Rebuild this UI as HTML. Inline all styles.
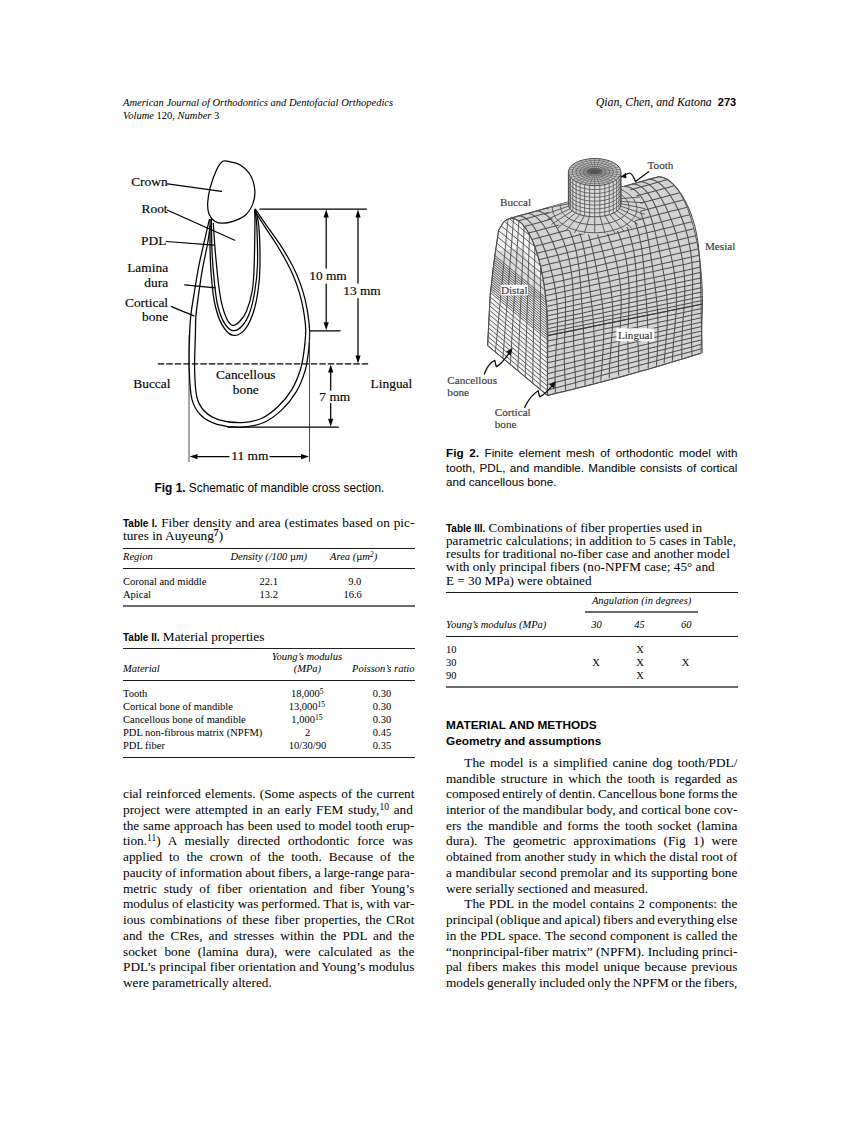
<!DOCTYPE html>
<html><head><meta charset="utf-8"><title>Page 273</title>
<style>
html,body{margin:0;padding:0;background:#fff;}
body{width:862px;height:1122px;position:relative;overflow:hidden;font-family:'Liberation Serif', serif;color:#000;}
.t{position:absolute;white-space:nowrap;margin:0;padding:0;}
.r{position:absolute;}
sup{font-size:0.72em;line-height:0;vertical-align:baseline;position:relative;top:-0.42em;}
svg{position:absolute;left:0;top:0;}
</style></head><body>
<svg width="862" height="1122" viewBox="0 0 862 1122" style="position:absolute;left:0;top:0">
<g stroke="#000" fill="none" stroke-width="1.25" stroke-linecap="round" stroke-linejoin="round">
<path d="M222.8,161.3C220.5,162.7 218.6,165.6 216.5,170.0C214.4,174.4 211.7,182.2 210.2,187.6C208.7,193.0 207.9,198.2 207.7,202.6C207.5,207.0 207.8,210.8 209.0,213.9C210.2,217.0 212.9,219.9 215.2,221.4C217.5,222.9 219.9,223.2 222.8,223.2C225.7,223.2 229.1,222.7 232.8,221.4C236.6,220.1 242.0,218.1 245.3,215.2C248.6,212.3 251.2,208.1 252.8,203.9C254.4,199.7 255.2,194.9 254.8,190.1C254.4,185.3 252.7,179.2 250.3,175.0C247.9,170.8 243.6,167.2 240.3,165.0C237.0,162.8 233.2,162.4 230.3,161.8C227.4,161.2 225.1,159.9 222.8,161.3Z"/>
<path d="M209.4,219.4C208.7,222.6 206.6,231.2 204.9,238.8C203.2,246.4 200.8,256.1 199.1,264.7C197.4,273.3 196.0,281.9 194.6,290.5C193.2,299.1 191.5,309.0 190.7,316.4C189.9,323.8 189.8,326.3 189.6,335.0C189.3,343.7 188.8,358.1 189.2,368.8C189.6,379.5 189.9,391.4 191.9,399.1C193.9,406.9 196.7,411.1 200.9,415.3C205.1,419.5 210.2,422.3 217.1,424.3C224.0,426.3 234.5,427.5 242.3,427.2C250.1,426.9 257.2,425.4 263.8,422.5C270.4,419.6 276.4,415.0 281.8,409.9C287.2,404.8 292.3,398.5 296.2,391.9C300.1,385.3 303.1,377.5 305.2,370.3C307.3,363.1 308.1,355.6 308.8,348.8C309.5,342.0 309.8,335.8 309.5,329.3C309.2,322.8 308.2,315.9 307.2,309.9C306.2,303.9 305.1,298.9 303.4,293.1C301.7,287.3 299.3,280.6 296.9,275.0C294.5,269.4 292.1,264.9 289.1,259.5C286.1,254.1 282.7,248.5 278.8,242.7C274.9,236.9 269.8,230.2 265.9,224.6C262.0,219.0 257.1,211.7 255.3,209.1"/>
<path d="M210.1,225.9C209.7,228.9 208.8,236.7 207.5,244.0C206.2,251.3 203.8,261.2 202.3,269.8C200.8,278.4 199.5,287.9 198.4,295.7C197.3,303.5 196.4,309.8 195.9,316.4C195.4,322.9 195.6,326.3 195.4,335.0C195.2,343.7 194.4,358.5 194.6,368.8C194.8,379.1 195.1,389.9 196.8,397.0C198.5,404.1 200.9,407.5 204.6,411.3C208.3,415.1 212.7,417.9 219.0,419.8C225.3,421.7 235.1,422.9 242.3,422.6C249.5,422.3 256.0,420.9 262.0,418.2C268.0,415.5 273.3,411.1 278.3,406.3C283.3,401.5 288.1,395.8 291.8,389.6C295.5,383.4 298.5,375.8 300.6,369.0C302.7,362.2 303.5,355.4 304.3,348.8C305.1,342.2 305.9,335.8 305.7,329.3C305.5,322.8 304.4,315.9 303.4,309.9C302.4,303.9 301.2,298.9 299.5,293.1C297.8,287.3 295.4,280.6 293.0,275.0C290.6,269.4 288.1,264.7 285.3,259.5C282.5,254.3 279.4,249.2 276.2,244.0C273.0,238.8 269.1,233.4 265.9,228.4C262.7,223.4 258.3,216.6 256.8,214.2"/>
<path d="M210.1,219.4C210.1,224.8 209.8,240.9 210.1,251.7C210.4,262.5 211.1,274.9 212.0,284.0C212.9,293.1 213.7,299.3 215.3,306.0C216.9,312.7 218.9,319.2 221.7,324.1C224.5,329.0 228.4,334.0 232.1,335.1C235.8,336.2 240.4,334.2 243.9,330.6C247.4,327.1 250.5,320.5 252.9,313.8C255.3,307.1 256.9,298.7 258.1,290.5C259.3,282.3 259.9,275.5 260.0,264.7C260.1,253.9 259.6,235.0 258.8,225.9C258.0,216.8 256.0,212.6 255.4,209.9"/>
<path d="M211.4,219.4C211.5,224.8 211.5,240.9 212.0,251.7C212.5,262.5 213.6,274.9 214.6,284.0C215.6,293.1 216.2,299.5 217.8,306.0C219.4,312.5 221.8,318.7 224.3,322.8C226.8,326.9 229.8,330.0 232.7,330.6C235.6,331.2 239.0,329.3 241.8,326.3C244.6,323.3 247.5,318.5 249.7,312.5C251.9,306.5 253.6,298.5 254.9,290.5C256.2,282.5 257.2,275.5 257.5,264.7C257.8,253.9 257.2,235.0 256.8,225.9C256.4,216.8 255.1,212.6 254.8,209.9"/>
<path d="M213.3,223.3C213.6,228.0 214.4,241.6 215.3,251.7C216.2,261.8 217.4,275.4 218.5,284.0C219.6,292.6 220.3,297.6 221.7,303.4C223.1,309.2 225.1,315.3 226.9,319.0C228.7,322.7 230.5,325.0 232.7,325.4C234.8,325.8 237.5,323.7 239.8,321.3C242.1,318.9 244.4,316.3 246.5,311.2C248.6,306.1 251.0,298.2 252.3,290.5C253.6,282.8 253.8,275.5 254.2,264.7C254.6,253.9 254.8,234.9 254.9,225.9C255.0,216.9 254.8,213.1 254.8,210.5"/>
<path d="M167.6,183.8L221.5,191.4"/>
<path d="M167.6,210.2L234.8,240.2"/>
<path d="M166.4,241.5L214,245.2"/>
<path d="M184.7,284.8L215.2,287.8"/>
<path d="M171.4,306.6L193.9,315.9"/>
<path d="M260,209H366.5"/>
<path d="M326.2,214V268M326.2,284V326"/>
<path d="M358,214V283M358,298.5V359"/>
<path d="M309.5,330.8H340"/>
<path d="M330.7,369V390M330.7,403.5V422"/>
<path d="M227.9,427.2H338.3"/>
<path d="M195,456.6H229M270,456.6H303.5"/>
</g>
<path d="M189,335V462M309.5,331V462" stroke="#222" stroke-width="0.8" fill="none"/>
<path d="M157.8,363.9H368.1" stroke="#000" stroke-width="1.3" stroke-dasharray="6.5 2" fill="none"/>
<g fill="#000">
<path d="M326.2,209.5L323.59999999999997,217.5L328.8,217.5Z"/>
<path d="M326.2,330.3L323.59999999999997,322.3L328.8,322.3Z"/>
<path d="M358,209.5L355.4,217.5L360.6,217.5Z"/>
<path d="M358,363.5L355.4,355.5L360.6,355.5Z"/>
<path d="M330.7,364.5L328.09999999999997,372.5L333.3,372.5Z"/>
<path d="M330.7,426.8L328.09999999999997,418.8L333.3,418.8Z"/>
<path d="M189.5,456.6L197.5,454.0L197.5,459.20000000000005Z"/>
<path d="M309,456.6L301,454.0L301,459.20000000000005Z"/>
</g>
<g font-family="'Liberation Serif',serif" font-size="13.4" fill="#000" stroke="#000" stroke-width="0.15">
<text x="167.6" y="186.3" text-anchor="end">Crown</text>
<text x="167.6" y="213.2" text-anchor="end">Root</text>
<text x="166.4" y="245.2" text-anchor="end">PDL</text>
<text x="168.1" y="272" text-anchor="end">Lamina</text>
<text x="168.1" y="286.6" text-anchor="end">dura</text>
<text x="168.1" y="306.6" text-anchor="end">Cortical</text>
<text x="168.1" y="320.9" text-anchor="end">bone</text>
<text x="133.3" y="388.3" text-anchor="start">Buccal</text>
<text x="370.6" y="388.3" text-anchor="start">Lingual</text>
<text x="245.8" y="379.3" text-anchor="middle">Cancellous</text>
<text x="245.8" y="393.7" text-anchor="middle">bone</text>
<text x="328" y="279.6" text-anchor="middle">10 mm</text>
<text x="362" y="294.8" text-anchor="middle">13 mm</text>
<text x="334.8" y="400.9" text-anchor="middle">7 mm</text>
<text x="249.8" y="460.2" text-anchor="middle">11 mm</text>
</g></svg>
<svg width="862" height="1122" viewBox="0 0 862 1122" style="position:absolute;left:0;top:0">
<defs><filter id="bl" x="-5%" y="-5%" width="110%" height="110%"><feGaussianBlur stdDeviation="0.45"/></filter></defs>
<g filter="url(#bl)">
<path d="M510.6,218.2L658.5,176.7L661.4,177.0L664.2,177.8L667.1,179.1L669.9,181.0L672.6,183.5L675.3,186.4L678.0,189.8L680.5,193.8L682.9,198.2L685.3,203.0L687.5,208.3L689.6,214.0L691.6,220.1L693.4,226.5L695.1,233.3L696.6,240.3L698.0,247.7L699.2,255.3L700.2,263.1L701.0,271.1L701.7,279.2L702.1,287.4L702.4,295.7L702.5,304.0L701.0,353.3L685.6,358.0L670.3,362.6L654.9,367.2L639.6,371.6L624.2,375.9L608.8,380.0L593.5,384.1L578.1,387.9L562.8,391.7L547.4,395.5L546.6,394.8L487.6,345.6L490.2,294.7L493.0,270.0L495.3,252.4L498.6,230.3L503.7,221.9L507.0,219.6Z" fill="#d3d3d3" stroke="none"/>
<clipPath id="dc"><path d="M487.6,345.6L490.2,294.7L493.0,270.0L495.3,252.4L498.6,230.3L503.7,221.9L507.0,219.6L510.6,218.2L513.0,218.5L515.4,219.2L517.8,220.5L520.2,222.2L522.5,224.4L524.8,227.1L527.0,230.3L529.1,233.9L531.2,238.0L533.2,242.5L535.1,247.3L536.8,252.6L538.5,258.2L540.0,264.1L541.4,270.4L542.7,276.9L543.9,283.7L544.9,290.7L545.7,297.9L546.4,305.2L547.0,312.7L547.4,320.3L547.6,327.9L547.7,335.6L547.4,395.5L546.6,394.8Z"/></clipPath>
<path d="M487.6,345.6L490.2,294.7L493.0,270.0L495.3,252.4L498.6,230.3L503.7,221.9L507.0,219.6L510.6,218.2L513.0,218.5L515.4,219.2L517.8,220.5L520.2,222.2L522.5,224.4L524.8,227.1L527.0,230.3L529.1,233.9L531.2,238.0L533.2,242.5L535.1,247.3L536.8,252.6L538.5,258.2L540.0,264.1L541.4,270.4L542.7,276.9L543.9,283.7L544.9,290.7L545.7,297.9L546.4,305.2L547.0,312.7L547.4,320.3L547.6,327.9L547.7,335.6L547.4,395.5L546.6,394.8Z" fill="#f3f3f3" stroke="none"/>
<g clip-path="url(#dc)" stroke="#505050" stroke-width="0.9" fill="none"><path d="M488,252L520,248L545,286L546,300L489,292Z" fill="#dcdcdc" stroke="none"/><path d="M495.1,355.8L508.4,215"/><path d="M502.6,362.0L513.8,215"/><path d="M510.1,368.2L519.2,215"/><path d="M517.6,374.4L524.6,215"/><path d="M525.1,380.6L530.0,215"/><path d="M532.6,386.8L535.4,215"/><path d="M540.1,393.0L540.8,215"/><path d="M547.6,399.2L546.2,215"/><path d="M484,342.6L552,398.9"/><path d="M484,338.0L552,394.3"/><path d="M484,333.4L552,389.7"/><path d="M484,328.8L552,385.1"/><path d="M484,324.2L552,380.5"/><path d="M484,319.6L552,375.9"/><path d="M484,315.0L552,371.3"/><path d="M484,310.4L552,366.7"/><path d="M484,305.8L552,362.1"/><path d="M484,301.2L552,357.5"/><path d="M484,296.6L552,352.9"/><path d="M484,292.0L552,348.3"/><path d="M484,287.4L552,343.7"/><path d="M484,285.0L552,341.3"/><path d="M484,282.6L552,338.9"/><path d="M484,280.2L552,336.5"/><path d="M484,277.8L552,334.1"/><path d="M484,275.4L552,331.7"/><path d="M484,273.0L552,329.3"/><path d="M484,270.6L552,326.9"/><path d="M484,268.2L552,324.5"/><path d="M484,265.8L552,322.1"/><path d="M484,263.4L552,319.7"/><path d="M484,261.0L552,317.3"/><path d="M484,258.6L552,314.9"/><path d="M484,256.2L552,312.5"/><path d="M484,253.8L552,310.1"/><path d="M484,251.4L552,307.7"/><path d="M484,249.0L552,305.3"/><path d="M484,246.6L552,302.9"/><path d="M484,239.6L552,295.9"/><path d="M484,232.6L552,288.9"/><path d="M484,225.6L552,281.9"/><path d="M484,218.6L552,274.9"/><path d="M484,211.6L552,267.9"/><path d="M484,204.6L552,260.9"/><path d="M484,197.6L552,253.9"/><path d="M484,190.6L552,246.9"/><path d="M484,183.6L552,239.9"/><path d="M484,176.6L552,232.9"/><path d="M484,169.6L552,225.9"/><path d="M484,162.6L552,218.9"/><path d="M484,155.6L552,211.9"/><path d="M484,148.6L552,204.9"/></g>
<path d="M487.6,345.6L490.2,294.7L493.0,270.0L495.3,252.4L498.6,230.3L503.7,221.9L507.0,219.6L510.6,218.2L513.0,218.5L515.4,219.2L517.8,220.5L520.2,222.2L522.5,224.4L524.8,227.1L527.0,230.3L529.1,233.9L531.2,238.0L533.2,242.5L535.1,247.3L536.8,252.6L538.5,258.2L540.0,264.1L541.4,270.4L542.7,276.9L543.9,283.7L544.9,290.7L545.7,297.9L546.4,305.2L547.0,312.7L547.4,320.3L547.6,327.9L547.7,335.6L547.4,395.5L546.6,394.8Z" fill="none" stroke="#505050" stroke-width="1"/>
<g stroke="#505050" stroke-width="1.05" fill="none"><path d="M510.6,218.2L518.0,216.1L525.4,214.1L532.8,212.0L540.2,209.9L547.6,207.8L555.0,205.8L562.4,203.7L569.8,201.6L577.2,199.5L584.5,197.4L591.9,195.4L599.3,193.3L606.7,191.2L614.1,189.2L621.5,187.1L628.9,185.0L636.3,182.9L643.7,180.8L651.1,178.8L658.5,176.7"/><path d="M518.4,220.8L525.9,218.8L533.3,216.7L540.8,214.6L548.3,212.6L555.7,210.5L563.2,208.4L570.7,206.4L578.1,204.3L585.6,202.3L593.1,200.2L600.6,198.1L608.0,196.1L615.5,194.0L623.0,191.9L630.4,189.9L637.9,187.8L645.4,185.7L652.8,183.7L660.3,181.6L667.8,179.6"/><path d="M524.3,226.4L531.8,224.4L539.3,222.4L546.8,220.3L554.3,218.3L561.9,216.2L569.4,214.2L576.9,212.2L584.4,210.1L592.0,208.1L599.5,206.0L607.0,204.0L614.5,202.0L622.0,199.9L629.6,197.9L637.1,195.8L644.6,193.8L652.1,191.8L659.7,189.7L667.2,187.7L674.7,185.6"/><path d="M528.6,232.9L536.2,230.9L543.7,228.9L551.3,226.9L558.9,224.9L566.4,222.9L574.0,220.9L581.5,218.9L589.1,216.8L596.7,214.8L604.2,212.8L611.8,210.8L619.3,208.8L626.9,206.8L634.5,204.8L642.0,202.8L649.6,200.7L657.2,198.7L664.7,196.7L672.3,194.7L679.8,192.7"/><path d="M531.9,239.5L539.5,237.6L547.1,235.6L554.7,233.6L562.3,231.6L569.9,229.6L577.5,227.6L585.1,225.7L592.7,223.7L600.3,221.7L607.9,219.7L615.5,217.7L623.1,215.7L630.6,213.7L638.2,211.8L645.8,209.8L653.4,207.8L661.0,205.8L668.6,203.8L676.2,201.8L683.8,199.8"/><path d="M534.7,246.3L542.3,244.4L549.9,242.4L557.6,240.5L565.2,238.5L572.8,236.5L580.4,234.6L588.0,232.6L595.6,230.7L603.3,228.7L610.9,226.8L618.5,224.8L626.1,222.9L633.7,220.9L641.4,218.9L649.0,217.0L656.6,215.0L664.2,213.1L671.8,211.1L679.5,209.2L687.1,207.2"/><path d="M537.0,253.2L544.7,251.3L552.3,249.4L560.0,247.5L567.6,245.5L575.2,243.6L582.9,241.7L590.5,239.7L598.2,237.8L605.8,235.9L613.4,234.0L621.1,232.0L628.7,230.1L636.4,228.2L644.0,226.3L651.7,224.3L659.3,222.4L666.9,220.5L674.6,218.5L682.2,216.6L689.9,214.7"/><path d="M538.9,259.7L546.6,257.8L554.2,255.9L561.9,254.0L569.5,252.1L577.2,250.2L584.9,248.3L592.5,246.4L600.2,244.5L607.8,242.6L615.5,240.7L623.1,238.8L630.8,236.9L638.5,235.0L646.1,233.1L653.8,231.2L661.4,229.3L669.1,227.4L676.8,225.5L684.4,223.6L692.1,221.7"/><path d="M540.5,266.2L548.2,264.3L555.9,262.5L563.5,260.6L571.2,258.7L578.9,256.9L586.6,255.0L594.2,253.1L601.9,251.2L609.6,249.4L617.3,247.5L624.9,245.6L632.6,243.8L640.3,241.9L648.0,240.0L655.6,238.1L663.3,236.3L671.0,234.4L678.6,232.5L686.3,230.6L694.0,228.8"/><path d="M541.9,272.7L549.6,270.8L557.3,269.0L565.0,267.2L572.7,265.3L580.4,263.5L588.0,261.6L595.7,259.8L603.4,257.9L611.1,256.1L618.8,254.2L626.5,252.4L634.2,250.6L641.8,248.7L649.5,246.9L657.2,245.0L664.9,243.2L672.6,241.3L680.3,239.5L688.0,237.6L695.7,235.8"/><path d="M543.0,278.6L550.7,276.8L558.4,275.0L566.1,273.2L573.8,271.4L581.5,269.5L589.2,267.7L596.9,265.9L604.6,264.1L612.3,262.3L620.0,260.4L627.7,258.6L635.4,256.8L643.1,255.0L650.8,253.2L658.5,251.3L666.2,249.5L673.9,247.7L681.6,245.9L689.3,244.1L697.0,242.2"/><path d="M544.0,284.8L551.7,283.0L559.5,281.2L567.2,279.4L574.9,277.6L582.6,275.8L590.3,274.0L598.0,272.2L605.7,270.4L613.4,268.6L621.1,266.8L628.8,265.0L636.5,263.2L644.2,261.5L651.9,259.7L659.6,257.9L667.3,256.1L675.0,254.3L682.8,252.5L690.5,250.7L698.2,248.9"/><path d="M544.9,290.7L552.6,288.9L560.3,287.1L568.0,285.4L575.7,283.6L583.4,281.8L591.2,280.1L598.9,278.3L606.6,276.5L614.3,274.7L622.0,273.0L629.7,271.2L637.4,269.4L645.2,267.7L652.9,265.9L660.6,264.1L668.3,262.4L676.0,260.6L683.7,258.8L691.4,257.1L699.2,255.3"/><path d="M545.5,295.8L553.2,294.1L560.9,292.3L568.7,290.6L576.4,288.8L584.1,287.1L591.8,285.3L599.5,283.6L607.3,281.9L615.0,280.1L622.7,278.4L630.4,276.6L638.1,274.9L645.9,273.1L653.6,271.4L661.3,269.6L669.0,267.9L676.7,266.1L684.5,264.4L692.2,262.6L699.9,260.9"/><path d="M546.1,301.5L553.8,299.8L561.6,298.1L569.3,296.3L577.0,294.6L584.7,292.9L592.5,291.2L600.2,289.5L607.9,287.7L615.6,286.0L623.4,284.3L631.1,282.6L638.8,280.8L646.5,279.1L654.3,277.4L662.0,275.7L669.7,273.9L677.4,272.2L685.2,270.5L692.9,268.8L700.6,267.0"/><path d="M546.5,306.4L554.3,304.7L562.0,303.0L569.7,301.3L577.5,299.6L585.2,297.9L592.9,296.2L600.6,294.5L608.4,292.8L616.1,291.1L623.8,289.4L631.6,287.7L639.3,286.0L647.0,284.3L654.7,282.6L662.5,280.9L670.2,279.2L677.9,277.5L685.7,275.7L693.4,274.0L701.1,272.3"/><path d="M546.9,311.3L554.6,309.7L562.4,308.0L570.1,306.3L577.8,304.6L585.6,302.9L593.3,301.2L601.0,299.6L608.8,297.9L616.5,296.2L624.2,294.5L632.0,292.8L639.7,291.2L647.4,289.5L655.2,287.8L662.9,286.1L670.6,284.4L678.4,282.7L686.1,281.1L693.8,279.4L701.6,277.7"/><path d="M547.2,315.9L554.9,314.2L562.6,312.5L570.4,310.9L578.1,309.2L585.8,307.6L593.6,305.9L601.3,304.2L609.1,302.6L616.8,300.9L624.5,299.2L632.3,297.6L640.0,295.9L647.7,294.2L655.5,292.6L663.2,290.9L670.9,289.3L678.7,287.6L686.4,285.9L694.1,284.3L701.9,282.6"/><path d="M547.4,320.4L555.1,318.8L562.9,317.1L570.6,315.5L578.3,313.9L586.1,312.2L593.8,310.6L601.5,308.9L609.3,307.3L617.0,305.6L624.8,304.0L632.5,302.3L640.2,300.7L648.0,299.1L655.7,297.4L663.4,295.8L671.2,294.1L678.9,292.5L686.7,290.8L694.4,289.2L702.1,287.5"/><path d="M547.5,324.6L555.3,322.9L563.0,321.3L570.8,319.7L578.5,318.0L586.2,316.4L594.0,314.8L601.7,313.2L609.4,311.5L617.2,309.9L624.9,308.3L632.7,306.7L640.4,305.0L648.1,303.4L655.9,301.8L663.6,300.2L671.4,298.5L679.1,296.9L686.8,295.3L694.6,293.6L702.3,292.0"/><path d="M547.6,328.7L555.4,327.1L563.1,325.5L570.9,323.9L578.6,322.3L586.3,320.6L594.1,319.0L601.8,317.4L609.6,315.8L617.3,314.2L625.0,312.6L632.8,311.0L640.5,309.4L648.2,307.8L656.0,306.2L663.7,304.6L671.5,302.9L679.2,301.3L686.9,299.7L694.7,298.1L702.4,296.5"/><path d="M547.7,332.4L555.4,330.8L563.2,329.2L570.9,327.6L578.6,326.0L586.4,324.4L594.1,322.8L601.9,321.2L609.6,319.6L617.3,318.0L625.1,316.4L632.8,314.8L640.6,313.2L648.3,311.7L656.0,310.1L663.8,308.5L671.5,306.9L679.3,305.3L687.0,303.7L694.7,302.1L702.5,300.5"/><path d="M547.7,335.6L555.4,334.0L563.2,332.4L570.9,330.9L578.7,329.3L586.4,327.7L594.1,326.1L601.9,324.5L609.6,323.0L617.4,321.4L625.1,319.8L632.8,318.2L640.6,316.6L648.3,315.1L656.1,313.5L663.8,311.9L671.5,310.3L679.3,308.7L687.0,307.2L694.8,305.6L702.5,304.0"/><path d="M547.7,341.0L555.4,339.4L563.1,337.8L570.9,336.2L578.6,334.5L586.3,332.9L594.1,331.3L601.8,329.6L609.5,328.0L617.3,326.4L625.0,324.8L632.8,323.1L640.5,321.5L648.2,319.9L656.0,318.3L663.7,316.6L671.4,315.0L679.2,313.4L686.9,311.7L694.6,310.1L702.4,308.5"/><path d="M547.6,346.5L555.4,344.8L563.1,343.1L570.8,341.5L578.6,339.8L586.3,338.1L594.0,336.4L601.7,334.8L609.5,333.1L617.2,331.4L624.9,329.7L632.7,328.1L640.4,326.4L648.1,324.7L655.9,323.0L663.6,321.3L671.3,319.7L679.0,318.0L686.8,316.3L694.5,314.6L702.2,313.0"/><path d="M547.6,351.9L555.3,350.2L563.1,348.5L570.8,346.8L578.5,345.0L586.2,343.3L594.0,341.6L601.7,339.9L609.4,338.1L617.1,336.4L624.9,334.7L632.6,333.0L640.3,331.2L648.0,329.5L655.7,327.8L663.5,326.1L671.2,324.3L678.9,322.6L686.6,320.9L694.4,319.2L702.1,317.4"/><path d="M547.6,357.4L555.3,355.6L563.0,353.8L570.7,352.1L578.5,350.3L586.2,348.5L593.9,346.7L601.6,345.0L609.3,343.2L617.1,341.4L624.8,339.7L632.5,337.9L640.2,336.1L647.9,334.3L655.6,332.6L663.4,330.8L671.1,329.0L678.8,327.2L686.5,325.5L694.2,323.7L702.0,321.9"/><path d="M547.6,362.8L555.3,361.0L563.0,359.2L570.7,357.4L578.4,355.5L586.1,353.7L593.8,351.9L601.6,350.1L609.3,348.3L617.0,346.4L624.7,344.6L632.4,342.8L640.1,341.0L647.8,339.2L655.5,337.3L663.3,335.5L671.0,333.7L678.7,331.9L686.4,330.1L694.1,328.2L701.8,326.4"/><path d="M547.5,368.3L555.2,366.4L563.0,364.5L570.7,362.7L578.4,360.8L586.1,358.9L593.8,357.1L601.5,355.2L609.2,353.3L616.9,351.5L624.6,349.6L632.3,347.7L640.0,345.8L647.7,344.0L655.4,342.1L663.1,340.2L670.9,338.4L678.6,336.5L686.3,334.6L694.0,332.8L701.7,330.9"/><path d="M547.5,373.7L555.2,371.8L562.9,369.9L570.6,368.0L578.3,366.0L586.0,364.1L593.7,362.2L601.4,360.3L609.1,358.4L616.8,356.5L624.5,354.5L632.2,352.6L639.9,350.7L647.6,348.8L655.3,346.9L663.0,345.0L670.7,343.0L678.4,341.1L686.1,339.2L693.8,337.3L701.5,335.4"/><path d="M547.5,379.2L555.2,377.2L562.9,375.2L570.6,373.3L578.3,371.3L586.0,369.3L593.7,367.4L601.4,365.4L609.1,363.4L616.7,361.5L624.4,359.5L632.1,357.5L639.8,355.6L647.5,353.6L655.2,351.6L662.9,349.7L670.6,347.7L678.3,345.8L686.0,343.8L693.7,341.8L701.4,339.9"/><path d="M547.5,384.6L555.1,382.6L562.8,380.6L570.5,378.6L578.2,376.6L585.9,374.5L593.6,372.5L601.3,370.5L609.0,368.5L616.7,366.5L624.4,364.5L632.1,362.5L639.7,360.4L647.4,358.4L655.1,356.4L662.8,354.4L670.5,352.4L678.2,350.4L685.9,348.4L693.6,346.4L701.3,344.3"/><path d="M547.4,390.1L555.1,388.0L562.8,385.9L570.5,383.9L578.2,381.8L585.9,379.7L593.5,377.7L601.2,375.6L608.9,373.6L616.6,371.5L624.3,369.4L632.0,367.4L639.7,365.3L647.3,363.3L655.0,361.2L662.7,359.1L670.4,357.1L678.1,355.0L685.8,352.9L693.5,350.9L701.1,348.8"/><path d="M547.4,395.5L555.1,393.6L562.8,391.7L570.4,389.9L578.1,387.9L585.8,386.0L593.5,384.1L601.2,382.1L608.8,380.0L616.5,378.0L624.2,375.9L631.9,373.8L639.6,371.6L647.2,369.4L654.9,367.2L662.6,364.9L670.3,362.6L678.0,360.3L685.6,358.0L693.3,355.6L701.0,353.3"/><path d="M510.6,218.2L513.0,218.5L515.4,219.2L517.8,220.5L520.2,222.2L522.5,224.4L524.8,227.1L527.0,230.3L529.1,233.9L531.2,238.0L533.2,242.5L535.1,247.3L536.8,252.6L538.5,258.2L540.0,264.1L541.4,270.4L542.7,276.9L543.9,283.7L544.9,290.7L545.7,297.9L546.4,305.2L547.0,312.7L547.4,320.3L547.6,327.9L547.7,335.6L547.6,350.6L547.5,365.6L547.5,380.5L547.4,395.5"/><path d="M518.1,215.8L520.5,216.0L522.9,216.8L525.3,218.0L527.7,219.8L529.9,222.0L532.2,224.7L534.4,227.9L536.6,231.6L538.7,235.6L540.8,240.1L542.8,245.0L544.9,250.3L546.9,256.0L548.8,261.9L550.6,268.2L552.3,274.8L553.9,281.6L555.2,288.6L556.3,295.8L557.0,303.2L557.5,310.7L557.6,318.3L557.5,326.0L557.1,333.7L556.1,348.6L555.3,363.4L555.0,378.2L555.4,393.0"/><path d="M526.6,213.3L529.0,213.6L531.5,214.3L534.0,215.6L536.5,217.4L538.9,219.6L541.3,222.3L543.7,225.5L546.1,229.2L548.4,233.3L550.7,237.8L553.0,242.7L555.1,248.0L557.2,253.7L559.1,259.7L560.8,266.0L562.3,272.6L563.5,279.4L564.4,286.5L565.1,293.8L565.5,301.2L565.6,308.8L565.5,316.4L565.3,324.1L564.9,331.9L564.3,346.5L564.3,361.2L564.9,375.9L565.7,390.5"/><path d="M536.1,210.9L538.6,211.1L541.2,211.9L543.7,213.2L546.3,214.9L548.8,217.2L551.4,219.9L553.9,223.2L556.3,226.8L558.7,231.0L561.0,235.5L563.1,240.4L565.1,245.8L567.0,251.5L568.6,257.5L570.0,263.8L571.1,270.4L572.0,277.3L572.6,284.4L573.0,291.7L573.3,299.2L573.4,306.8L573.5,314.5L573.5,322.2L573.5,330.0L573.7,344.5L574.4,359.0L575.2,373.5L575.8,388.1"/><path d="M546.1,208.4L548.7,208.7L551.2,209.5L553.8,210.7L556.4,212.5L558.9,214.8L561.4,217.5L563.8,220.8L566.2,224.5L568.4,228.6L570.5,233.2L572.4,238.1L574.1,243.5L575.7,249.2L577.0,255.3L578.1,261.6L579.0,268.3L579.7,275.2L580.4,282.3L580.9,289.7L581.4,297.2L581.9,304.8L582.4,312.5L582.8,320.3L583.3,328.2L584.0,342.5L584.8,356.9L585.1,371.2L585.0,385.6"/><path d="M555.6,206.0L558.1,206.3L560.7,207.0L563.2,208.3L565.7,210.1L568.2,212.4L570.5,215.2L572.8,218.4L575.0,222.1L577.0,226.3L578.9,230.9L580.6,235.9L582.1,241.2L583.5,247.0L584.7,253.1L585.8,259.5L586.8,266.1L587.8,273.1L588.8,280.3L589.7,287.6L590.6,295.2L591.5,302.8L592.4,310.6L593.1,318.4L593.7,326.3L594.3,340.5L594.4,354.7L594.0,368.9L593.1,383.1"/><path d="M563.9,203.6L566.5,203.8L569.0,204.6L571.5,205.9L574.0,207.7L576.3,210.0L578.6,212.8L580.8,216.0L582.8,219.7L584.7,223.9L586.5,228.5L588.2,233.6L589.8,239.0L591.3,244.7L592.8,250.9L594.2,257.3L595.6,264.0L596.9,271.0L598.3,278.2L599.6,285.6L600.8,293.2L601.9,300.9L602.8,308.7L603.4,316.5L603.8,324.4L603.6,338.5L602.9,352.5L601.9,366.6L600.8,380.6"/><path d="M571.4,201.1L574.0,201.4L576.6,202.2L579.1,203.4L581.5,205.3L583.9,207.6L586.1,210.4L588.3,213.6L590.5,217.4L592.5,221.6L594.5,226.2L596.4,231.3L598.2,236.7L600.1,242.5L601.9,248.6L603.7,255.1L605.4,261.8L607.1,268.9L608.6,276.1L610.0,283.5L611.2,291.1L612.0,298.9L612.6,306.7L612.8,314.6L612.7,322.6L611.8,336.5L610.7,350.4L609.7,364.2L609.2,378.1"/><path d="M579.0,198.7L581.6,198.9L584.2,199.7L586.8,201.0L589.3,202.8L591.8,205.1L594.2,208.0L596.6,211.3L598.9,215.0L601.2,219.2L603.4,223.9L605.6,229.0L607.8,234.4L609.9,240.3L612.0,246.4L614.0,252.9L615.8,259.7L617.4,266.7L618.8,274.0L619.9,281.5L620.7,289.1L621.1,296.9L621.2,304.8L621.0,312.7L620.6,320.7L619.5,334.5L618.7,348.2L618.4,361.9L618.6,375.6"/><path d="M587.4,196.2L590.1,196.5L592.8,197.3L595.4,198.6L598.1,200.4L600.7,202.7L603.3,205.6L605.9,208.9L608.4,212.7L610.9,216.9L613.4,221.6L615.8,226.7L618.1,232.2L620.3,238.0L622.3,244.2L624.1,250.7L625.7,257.6L626.9,264.6L627.9,271.9L628.6,279.4L629.0,287.1L629.1,294.9L629.0,302.9L628.8,310.8L628.5,318.9L627.9,332.4L627.9,346.0L628.2,359.6L628.9,373.2"/><path d="M597.0,193.8L599.7,194.1L602.4,194.8L605.2,196.2L607.9,198.0L610.6,200.3L613.3,203.2L616.0,206.5L618.6,210.3L621.2,214.6L623.6,219.3L625.9,224.4L628.1,229.9L630.0,235.8L631.7,242.0L633.2,248.6L634.4,255.4L635.3,262.5L636.0,269.9L636.5,277.4L636.8,285.1L636.9,293.0L637.1,300.9L637.2,309.0L637.3,317.0L637.5,330.4L638.0,343.8L638.6,357.3L639.0,370.7"/><path d="M607.0,191.3L609.7,191.6L612.5,192.4L615.2,193.7L618.0,195.6L620.7,197.9L623.4,200.8L626.0,204.1L628.5,207.9L630.9,212.2L633.1,216.9L635.2,222.1L637.0,227.6L638.7,233.5L640.1,239.8L641.3,246.4L642.3,253.2L643.1,260.4L643.8,267.8L644.4,275.4L645.0,283.1L645.6,291.0L646.2,299.0L646.7,307.1L647.2,315.2L647.8,328.4L648.3,341.7L648.5,354.9L648.2,368.2"/><path d="M616.5,188.9L619.2,189.2L622.0,190.0L624.7,191.3L627.4,193.1L630.0,195.5L632.5,198.4L635.0,201.7L637.3,205.6L639.5,209.9L641.5,214.6L643.3,219.8L645.0,225.3L646.5,231.3L647.8,237.6L649.0,244.2L650.1,251.1L651.2,258.3L652.3,265.7L653.3,273.3L654.4,281.1L655.4,289.0L656.3,297.1L657.1,305.2L657.7,313.3L658.0,326.4L657.9,339.5L657.3,352.6L656.4,365.7"/><path d="M624.9,186.5L627.6,186.7L630.3,187.5L633.0,188.9L635.6,190.7L638.2,193.1L640.6,196.0L642.9,199.4L645.1,203.2L647.2,207.5L649.1,212.3L651.0,217.5L652.7,223.1L654.3,229.0L655.9,235.4L657.4,242.0L659.0,248.9L660.4,256.2L661.9,263.6L663.3,271.3L664.6,279.1L665.8,287.1L666.7,295.1L667.3,303.3L667.6,311.4L667.2,324.4L666.3,337.3L665.2,350.3L664.1,363.2"/><path d="M632.4,184.0L635.2,184.3L637.9,185.1L640.6,186.4L643.2,188.3L645.7,190.7L648.2,193.6L650.5,197.0L652.8,200.8L655.0,205.2L657.1,210.0L659.1,215.2L661.2,220.8L663.1,226.8L665.1,233.1L667.0,239.8L668.9,246.8L670.6,254.0L672.3,261.5L673.7,269.2L674.9,277.1L675.8,285.1L676.3,293.2L676.5,301.4L676.3,309.6L675.2,322.4L674.1,335.2L673.1,348.0L672.4,360.7"/><path d="M639.9,181.6L642.7,181.9L645.5,182.7L648.3,184.0L650.9,185.9L653.6,188.3L656.2,191.2L658.7,194.6L661.2,198.5L663.6,202.8L666.1,207.6L668.4,212.9L670.8,218.5L673.0,224.6L675.2,230.9L677.3,237.6L679.2,244.6L680.9,251.9L682.4,259.4L683.5,267.2L684.3,275.1L684.7,283.1L684.8,291.3L684.6,299.5L684.1,307.7L683.0,320.4L682.2,333.0L681.8,345.6L681.8,358.3"/><path d="M648.3,179.1L651.2,179.4L654.0,180.2L656.9,181.6L659.7,183.5L662.5,185.9L665.3,188.8L668.0,192.2L670.7,196.1L673.4,200.5L676.0,205.3L678.6,210.6L681.0,216.3L683.3,222.3L685.5,228.7L687.4,235.5L689.0,242.5L690.4,249.8L691.4,257.4L692.1,265.1L692.5,273.1L692.6,281.1L692.6,289.3L692.4,297.6L692.1,305.9L691.5,318.3L691.4,330.8L691.6,343.3L692.0,355.8"/><path d="M657.8,176.7L660.7,177.0L663.7,177.8L666.6,179.1L669.5,181.0L672.4,183.5L675.3,186.4L678.1,189.8L680.9,193.8L683.6,198.2L686.2,203.0L688.7,208.3L691.0,214.0L693.1,220.1L694.9,226.5L696.4,233.3L697.7,240.3L698.7,247.7L699.4,255.3L699.9,263.1L700.3,271.1L700.5,279.2L700.7,287.4L700.9,295.7L701.1,304.0L701.2,316.3L701.6,328.6L702.0,341.0L702.2,353.3"/></g>
<path d="M547.7,335.6L702.5,304" stroke="#3a3a3a" stroke-width="1.1"/>
<path d="M510.6,218.2L658.5,176.7L661.4,177.0L664.2,177.8L667.1,179.1L669.9,181.0L672.6,183.5L675.3,186.4L678.0,189.8L680.5,193.8L682.9,198.2L685.3,203.0L687.5,208.3L689.6,214.0L691.6,220.1L693.4,226.5L695.1,233.3L696.6,240.3L698.0,247.7L699.2,255.3L700.2,263.1L701.0,271.1L701.7,279.2L702.1,287.4L702.4,295.7L702.5,304.0L701.0,353.3L685.6,358.0L670.3,362.6L654.9,367.2L639.6,371.6L624.2,375.9L608.8,380.0L593.5,384.1L578.1,387.9L562.8,391.7L547.4,395.5L546.6,394.8L487.6,345.6L490.2,294.7L493.0,270.0L495.3,252.4L498.6,230.3L503.7,221.9L507.0,219.6Z" fill="none" stroke="#505050" stroke-width="1"/>
<clipPath id="sc"><path d="M510.6,218.2L658.5,176.7L661.4,177.0L664.2,177.8L667.1,179.1L669.9,181.0L672.6,183.5L675.3,186.4L678.0,189.8L680.5,193.8L682.9,198.2L685.3,203.0L687.5,208.3L689.6,214.0L691.6,220.1L693.4,226.5L695.1,233.3L696.6,240.3L698.0,247.7L699.2,255.3L700.2,263.1L701.0,271.1L701.7,279.2L702.1,287.4L702.4,295.7L702.5,304.0L701.0,353.3L685.6,358.0L670.3,362.6L654.9,367.2L639.6,371.6L624.2,375.9L608.8,380.0L593.5,384.1L578.1,387.9L562.8,391.7L547.4,395.5L546.6,394.8L487.6,345.6L490.2,294.7L493.0,270.0L495.3,252.4L498.6,230.3L503.7,221.9L507.0,219.6Z"/></clipPath>
<ellipse cx="594.7" cy="207.5" rx="46.3" ry="27.3" fill="#d3d3d3" stroke="none" clip-path="url(#sc)"/>
<g stroke="#505050" stroke-width="0.9" fill="none" clip-path="url(#sc)"><path d="M618.1,198.9L639.9,197.0"/><path d="M620.1,201.3L643.6,202.8"/><path d="M620.9,203.7L645.3,208.7"/><path d="M620.7,206.2L644.9,214.4"/><path d="M619.4,208.7L642.4,219.7"/><path d="M617.1,210.9L637.9,224.4"/><path d="M613.9,212.9L631.7,228.2"/><path d="M609.8,214.6L623.9,231.1"/><path d="M605.1,215.8L614.8,232.9"/><path d="M600.0,216.5L605.0,233.4"/><path d="M594.7,216.8L594.7,232.8"/><path d="M589.4,216.5L584.4,233.4"/><path d="M584.3,215.8L574.6,232.9"/><path d="M579.6,214.6L565.5,231.1"/><path d="M575.5,212.9L557.7,228.2"/><path d="M572.3,210.9L551.5,224.4"/><path d="M570.0,208.7L547.0,219.7"/><path d="M568.7,206.2L544.5,214.4"/><path d="M568.5,203.7L544.1,208.7"/><path d="M569.3,201.3L545.8,202.8"/><path d="M571.3,198.9L549.5,197.0"/><ellipse cx="594.7" cy="206.5" rx="34.3" ry="18.3"/><ellipse cx="594.7" cy="208.5" rx="42.3" ry="24.3"/></g>
<path d="M568.4000000000001,172.1L568.4000000000001,204.5A26.3,12.3 0 0 0 621.0,204.5L621.0,172.1Z" fill="#dadada" stroke="#505050" stroke-width="1"/>
<g stroke="#505050" stroke-width="0.8" fill="none"><path d="M568.4000000000001,176.2A26.3,13.4 0 0 0 621.0,176.2"/><path d="M568.4000000000001,180.2A26.3,13.3 0 0 0 621.0,180.2"/><path d="M568.4000000000001,184.2A26.3,13.1 0 0 0 621.0,184.2"/><path d="M568.4000000000001,188.3A26.3,12.9 0 0 0 621.0,188.3"/><path d="M568.4000000000001,192.3A26.3,12.8 0 0 0 621.0,192.3"/><path d="M568.4000000000001,196.4A26.3,12.6 0 0 0 621.0,196.4"/><path d="M568.4000000000001,200.4A26.3,12.5 0 0 0 621.0,200.4"/><path d="M620.5,174.8L620.5,206.9"/><path d="M619.0,177.3L619.0,209.2"/><path d="M616.6,179.7L616.6,211.3"/><path d="M613.3,181.7L613.3,213.2"/><path d="M609.3,183.4L609.3,214.7"/><path d="M604.8,184.7L604.8,215.9"/><path d="M599.8,185.4L599.8,216.6"/><path d="M594.7,185.7L594.7,216.8"/><path d="M589.6,185.4L589.6,216.6"/><path d="M584.6,184.7L584.6,215.9"/><path d="M580.1,183.4L580.1,214.7"/><path d="M576.1,181.7L576.1,213.2"/><path d="M572.8,179.7L572.8,211.3"/><path d="M570.4,177.3L570.4,209.2"/><path d="M568.9,174.8L568.9,206.9"/></g>
<ellipse cx="594.7" cy="172.1" rx="26.3" ry="13.6" fill="#c4c4c4" stroke="#505050" stroke-width="1"/>
<g stroke="#505050" stroke-width="0.6" fill="none"><ellipse cx="594.7" cy="172.1" rx="3.8" ry="1.9"/><ellipse cx="594.7" cy="172.1" rx="7.5" ry="3.9"/><ellipse cx="594.7" cy="172.1" rx="11.3" ry="5.8"/><ellipse cx="594.7" cy="172.1" rx="15.0" ry="7.8"/><ellipse cx="594.7" cy="172.1" rx="18.8" ry="9.7"/><ellipse cx="594.7" cy="172.1" rx="22.5" ry="11.7"/><path d="M594.7,172.1L621.0,172.1"/><path d="M594.7,172.1L620.5,174.8"/><path d="M594.7,172.1L619.0,177.3"/><path d="M594.7,172.1L616.6,179.7"/><path d="M594.7,172.1L613.3,181.7"/><path d="M594.7,172.1L609.3,183.4"/><path d="M594.7,172.1L604.8,184.7"/><path d="M594.7,172.1L599.8,185.4"/><path d="M594.7,172.1L594.7,185.7"/><path d="M594.7,172.1L589.6,185.4"/><path d="M594.7,172.1L584.6,184.7"/><path d="M594.7,172.1L580.1,183.4"/><path d="M594.7,172.1L576.1,181.7"/><path d="M594.7,172.1L572.8,179.7"/><path d="M594.7,172.1L570.4,177.3"/><path d="M594.7,172.1L568.9,174.8"/><path d="M594.7,172.1L568.4,172.1"/><path d="M594.7,172.1L568.9,169.4"/><path d="M594.7,172.1L570.4,166.9"/><path d="M594.7,172.1L572.8,164.5"/><path d="M594.7,172.1L576.1,162.5"/><path d="M594.7,172.1L580.1,160.8"/><path d="M594.7,172.1L584.6,159.5"/><path d="M594.7,172.1L589.6,158.8"/><path d="M594.7,172.1L594.7,158.5"/><path d="M594.7,172.1L599.8,158.8"/><path d="M594.7,172.1L604.8,159.5"/><path d="M594.7,172.1L609.3,160.8"/><path d="M594.7,172.1L613.3,162.5"/><path d="M594.7,172.1L616.6,164.5"/><path d="M594.7,172.1L619.0,166.9"/><path d="M594.7,172.1L620.5,169.4"/></g>
<ellipse cx="594.7" cy="171.1" rx="7" ry="3.2" fill="#555" opacity="0.8"/>
</g>
<rect x="500.6" y="284.8" width="27.5" height="10.6" fill="#fff"/>
<rect x="616.4" y="328.4" width="37.8" height="12.8" fill="#fff"/>
<g font-family="'Liberation Serif',serif" font-size="11.2" fill="#3a3a3a" stroke="#3a3a3a" stroke-width="0.15">
<text x="500" y="206.2" text-anchor="start">Buccal</text>
<text x="704.9" y="249.9" text-anchor="start">Mesial</text>
<text x="647.5" y="168.7" text-anchor="start">Tooth</text>
<text x="514.3" y="293.6" text-anchor="middle">Distal</text>
<text x="635.3" y="339.1" text-anchor="middle">Lingual</text>
<text x="447.3" y="383.8" text-anchor="start">Cancellous</text>
<text x="447.3" y="395.5" text-anchor="start">bone</text>
<text x="494.7" y="416.1" text-anchor="start">Cortical</text>
<text x="494.7" y="427.6" text-anchor="start">bone</text>
</g>
<path stroke="#111" stroke-width="1.3" fill="none" stroke-linecap="round" stroke-linejoin="round" d="M648.6,171.7L635.5,181.5C634,178 632,173.5 629.8,173.2C627,173 625,176 621.5,176.6"/>
<path d="M620.6,176.8L626,172.8L626.4,178.6Z" fill="#111"/>
<path stroke="#111" stroke-width="1.3" fill="none" stroke-linecap="round" stroke-linejoin="round" d="M484.3,374C487,367 491,362 494.7,360.4C495.5,362 495.5,365 496.4,366.7C502,364 507,356 511.5,349.6"/>
<path d="M512.6,348L510.8,355.2L506.2,351.4Z" fill="#111"/>
<path stroke="#111" stroke-width="1.3" fill="none" stroke-linecap="round" stroke-linejoin="round" d="M524.6,407.4C528,400 533,394 538.1,390.7C538.8,392.5 539,395.5 539.8,396.9C545,394 550.5,388 554.5,382.8"/>
<path d="M555.8,381.2L554,388.4L549.4,384.6Z" fill="#111"/>
</svg>
<div class="r" style="left:123px;top:548.00px;width:292px;height:1px;background:#1a1a1a"></div><div class="r" style="left:123px;top:568.00px;width:292px;height:1px;background:#1a1a1a"></div><div class="r" style="left:123px;top:605.00px;width:292px;height:2px;background:#6a6a6a"></div><div class="r" style="left:123px;top:648.00px;width:292px;height:1px;background:#222"></div><div class="r" style="left:123px;top:680.00px;width:292px;height:1px;background:#1a1a1a"></div><div class="r" style="left:123px;top:757.00px;width:292px;height:1px;background:#222"></div><div class="r" style="left:446px;top:592.00px;width:292px;height:1px;background:#1a1a1a"></div><div class="r" style="left:585px;top:611.00px;width:113px;height:2px;background:#6a6a6a"></div><div class="r" style="left:446px;top:636.00px;width:292px;height:1px;background:#1a1a1a"></div><div class="r" style="left:446px;top:686.00px;width:292px;height:2px;background:#6a6a6a"></div>
<div class="t" style="left:123px;top:95px;line-height:15px;font-family:'Liberation Serif', serif;font-size:10.5px;font-weight:normal;font-style:italic;">American Journal of Orthodontics and Dentofacial Orthopedics</div>
<div class="t" style="left:123px;top:108px;line-height:15px;font-family:'Liberation Serif', serif;font-size:10.5px;font-weight:normal;font-style:italic;">Volume <span style="font-style:normal">120,</span> Number <span style="font-style:normal">3</span></div>
<div class="t" style="left:595.66px;top:94px;line-height:16px;font-family:'Liberation Serif', serif;font-size:11.85px;font-weight:normal;font-style:italic;">Qian, Chen, and Katona</div>
<div class="t" style="left:717.84px;top:95px;line-height:15px;font-family:'Liberation Sans', sans-serif;font-size:11px;font-weight:bold;font-style:normal;">273</div>
<div class="t" style="left:154.6px;top:480px;line-height:16px;font-family:'Liberation Sans', sans-serif;font-size:11.85px;font-weight:normal;font-style:normal;"><b>Fig 1.</b> Schematic of mandible cross section.</div>
<div class="t" style="left:446px;top:445px;line-height:16px;font-family:'Liberation Sans', sans-serif;font-size:11.7px;font-weight:normal;font-style:normal;word-spacing:2.400px;"><b>Fig 2.</b> Finite element mesh of orthodontic model with</div>
<div class="t" style="left:446px;top:460px;line-height:16px;font-family:'Liberation Sans', sans-serif;font-size:11.7px;font-weight:normal;font-style:normal;word-spacing:0.979px;">tooth, PDL, and mandible. Mandible consists of cortical</div>
<div class="t" style="left:446px;top:474px;line-height:16px;font-family:'Liberation Sans', sans-serif;font-size:11.7px;font-weight:normal;font-style:normal;">and cancellous bone.</div>
<div class="t" style="left:123px;top:785px;line-height:18px;font-family:'Liberation Serif', serif;font-size:13.3px;font-weight:normal;font-style:normal;word-spacing:0.805px;">cial reinforced elements. (Some aspects of the current</div>
<div class="t" style="left:123px;top:801px;line-height:18px;font-family:'Liberation Serif', serif;font-size:13.3px;font-weight:normal;font-style:normal;word-spacing:1.407px;">project were attempted in an early FEM study,<sup>10</sup> and</div>
<div class="t" style="left:123px;top:817px;line-height:18px;font-family:'Liberation Serif', serif;font-size:13.3px;font-weight:normal;font-style:normal;word-spacing:0.334px;">the same approach has been used to model tooth erup-</div>
<div class="t" style="left:123px;top:832px;line-height:18px;font-family:'Liberation Serif', serif;font-size:13.3px;font-weight:normal;font-style:normal;word-spacing:4.507px;">tion.<sup>11</sup>) A mesially directed orthodontic force was</div>
<div class="t" style="left:123px;top:848px;line-height:18px;font-family:'Liberation Serif', serif;font-size:13.3px;font-weight:normal;font-style:normal;word-spacing:3.657px;">applied to the crown of the tooth. Because of the</div>
<div class="t" style="left:123px;top:864px;line-height:18px;font-family:'Liberation Serif', serif;font-size:13.3px;font-weight:normal;font-style:normal;word-spacing:-0.215px;">paucity of information about fibers, a large-range para-</div>
<div class="t" style="left:123px;top:880px;line-height:18px;font-family:'Liberation Serif', serif;font-size:13.3px;font-weight:normal;font-style:normal;word-spacing:3.432px;">metric study of fiber orientation and fiber Young&rsquo;s</div>
<div class="t" style="left:123px;top:895px;line-height:18px;font-family:'Liberation Serif', serif;font-size:13.3px;font-weight:normal;font-style:normal;word-spacing:-0.071px;">modulus of elasticity was performed. That is, with var-</div>
<div class="t" style="left:123px;top:911px;line-height:18px;font-family:'Liberation Serif', serif;font-size:13.3px;font-weight:normal;font-style:normal;word-spacing:1.428px;">ious combinations of these fiber properties, the CRot</div>
<div class="t" style="left:123px;top:927px;line-height:18px;font-family:'Liberation Serif', serif;font-size:13.3px;font-weight:normal;font-style:normal;word-spacing:2.642px;">and the CRes, and stresses within the PDL and the</div>
<div class="t" style="left:123px;top:943px;line-height:18px;font-family:'Liberation Serif', serif;font-size:13.3px;font-weight:normal;font-style:normal;word-spacing:4.182px;">socket bone (lamina dura), were calculated as the</div>
<div class="t" style="left:123px;top:958px;line-height:18px;font-family:'Liberation Serif', serif;font-size:13.3px;font-weight:normal;font-style:normal;word-spacing:0.080px;">PDL&rsquo;s principal fiber orientation and Young&rsquo;s modulus</div>
<div class="t" style="left:123px;top:974px;line-height:18px;font-family:'Liberation Serif', serif;font-size:13.3px;font-weight:normal;font-style:normal;">were parametrically altered.</div>
<div class="t" style="left:464.3px;top:754px;line-height:18px;font-family:'Liberation Serif', serif;font-size:13.3px;font-weight:normal;font-style:normal;word-spacing:1.820px;">The model is a simplified canine dog tooth/PDL/</div>
<div class="t" style="left:446px;top:770px;line-height:18px;font-family:'Liberation Serif', serif;font-size:13.3px;font-weight:normal;font-style:normal;word-spacing:1.991px;">mandible structure in which the tooth is regarded as</div>
<div class="t" style="left:446px;top:785px;line-height:18px;font-family:'Liberation Serif', serif;font-size:13.3px;font-weight:normal;font-style:normal;word-spacing:-0.892px;">composed entirely of dentin. Cancellous bone forms the</div>
<div class="t" style="left:446px;top:801px;line-height:18px;font-family:'Liberation Serif', serif;font-size:13.3px;font-weight:normal;font-style:normal;word-spacing:0.025px;">interior of the mandibular body, and cortical bone cov-</div>
<div class="t" style="left:446px;top:817px;line-height:18px;font-family:'Liberation Serif', serif;font-size:13.3px;font-weight:normal;font-style:normal;word-spacing:1.900px;">ers the mandible and forms the tooth socket (lamina</div>
<div class="t" style="left:446px;top:832px;line-height:18px;font-family:'Liberation Serif', serif;font-size:13.3px;font-weight:normal;font-style:normal;word-spacing:4.114px;">dura). The geometric approximations (Fig 1) were</div>
<div class="t" style="left:446px;top:848px;line-height:18px;font-family:'Liberation Serif', serif;font-size:13.3px;font-weight:normal;font-style:normal;word-spacing:0.086px;">obtained from another study in which the distal root of</div>
<div class="t" style="left:446px;top:864px;line-height:18px;font-family:'Liberation Serif', serif;font-size:13.3px;font-weight:normal;font-style:normal;word-spacing:0.323px;">a mandibular second premolar and its supporting bone</div>
<div class="t" style="left:446px;top:880px;line-height:18px;font-family:'Liberation Serif', serif;font-size:13.3px;font-weight:normal;font-style:normal;">were serially sectioned and measured.</div>
<div class="t" style="left:464.3px;top:895px;line-height:18px;font-family:'Liberation Serif', serif;font-size:13.3px;font-weight:normal;font-style:normal;word-spacing:0.778px;">The PDL in the model contains 2 components: the</div>
<div class="t" style="left:446px;top:911px;line-height:18px;font-family:'Liberation Serif', serif;font-size:13.3px;font-weight:normal;font-style:normal;word-spacing:-0.833px;">principal (oblique and apical) fibers and everything else</div>
<div class="t" style="left:446px;top:927px;line-height:18px;font-family:'Liberation Serif', serif;font-size:13.3px;font-weight:normal;font-style:normal;word-spacing:0.458px;">in the PDL space. The second component is called the</div>
<div class="t" style="left:446px;top:943px;line-height:18px;font-family:'Liberation Serif', serif;font-size:13.3px;font-weight:normal;font-style:normal;word-spacing:0.014px;">&ldquo;nonprincipal-fiber matrix&rdquo; (NPFM). Including princi-</div>
<div class="t" style="left:446px;top:958px;line-height:18px;font-family:'Liberation Serif', serif;font-size:13.3px;font-weight:normal;font-style:normal;word-spacing:1.588px;">pal fibers makes this model unique because previous</div>
<div class="t" style="left:446px;top:974px;line-height:18px;font-family:'Liberation Serif', serif;font-size:13.3px;font-weight:normal;font-style:normal;word-spacing:-0.735px;">models generally included only the NPFM or the fibers,</div>
<div class="t" style="left:446px;top:717px;line-height:16px;font-family:'Liberation Sans', sans-serif;font-size:11.8px;font-weight:bold;font-style:normal;">MATERIAL AND METHODS</div>
<div class="t" style="left:446px;top:733px;line-height:16px;font-family:'Liberation Sans', sans-serif;font-size:11.8px;font-weight:bold;font-style:normal;">Geometry and assumptions</div>
<div class="t" style="left:123px;top:514px;line-height:18px;font-family:'Liberation Serif', serif;font-size:13.3px;font-weight:normal;font-style:normal;word-spacing:0.569px;"><span style="font-family:'Liberation Sans',sans-serif;font-weight:bold;font-size:10px">Table I.</span> Fiber density and area (estimates based on pic-</div>
<div class="t" style="left:123px;top:527px;line-height:18px;font-family:'Liberation Serif', serif;font-size:13.3px;font-weight:normal;font-style:normal;">tures in Auyeung<sup style="font-weight:bold">7</sup>)</div>
<div class="t" style="left:123px;top:549px;line-height:15px;font-family:'Liberation Serif', serif;font-size:10.5px;font-weight:normal;font-style:italic;">Region</div>
<div class="t" style="left:230.47px;top:549px;line-height:15px;font-family:'Liberation Serif', serif;font-size:10.5px;font-weight:normal;font-style:italic;">Density (/100 <span style="font-style:normal">&micro;</span>m)</div>
<div class="t" style="left:330.06px;top:549px;line-height:15px;font-family:'Liberation Serif', serif;font-size:10.5px;font-weight:normal;font-style:italic;">Area (<span style="font-style:normal">&micro;</span>m<sup>2</sup>)</div>
<div class="t" style="left:123px;top:574px;line-height:15px;font-family:'Liberation Serif', serif;font-size:10.5px;font-weight:normal;font-style:normal;">Coronal and middle</div>
<div class="t" style="left:123px;top:587px;line-height:15px;font-family:'Liberation Serif', serif;font-size:10.5px;font-weight:normal;font-style:normal;">Apical</div>
<div class="t" style="left:259.61px;top:574px;line-height:15px;font-family:'Liberation Serif', serif;font-size:10.5px;font-weight:normal;font-style:normal;">22.1</div>
<div class="t" style="left:259.61px;top:587px;line-height:15px;font-family:'Liberation Serif', serif;font-size:10.5px;font-weight:normal;font-style:normal;">13.2</div>
<div class="t" style="left:348.14px;top:574px;line-height:15px;font-family:'Liberation Serif', serif;font-size:10.5px;font-weight:normal;font-style:normal;">9.0</div>
<div class="t" style="left:343.41px;top:587px;line-height:15px;font-family:'Liberation Serif', serif;font-size:10.5px;font-weight:normal;font-style:normal;">16.6</div>
<div class="t" style="left:123px;top:628px;line-height:18px;font-family:'Liberation Serif', serif;font-size:13.3px;font-weight:normal;font-style:normal;"><span style="font-family:'Liberation Sans',sans-serif;font-weight:bold;font-size:10px">Table II.</span> Material properties</div>
<div class="t" style="left:271.74px;top:649px;line-height:15px;font-family:'Liberation Serif', serif;font-size:10.5px;font-weight:normal;font-style:italic;">Young&rsquo;s modulus</div>
<div class="t" style="left:123px;top:661px;line-height:15px;font-family:'Liberation Serif', serif;font-size:10.5px;font-weight:normal;font-style:italic;">Material</div>
<div class="t" style="left:293.70px;top:661px;line-height:15px;font-family:'Liberation Serif', serif;font-size:10.5px;font-weight:normal;font-style:italic;">(MPa)</div>
<div class="t" style="left:351.97px;top:661px;line-height:15px;font-family:'Liberation Serif', serif;font-size:10.5px;font-weight:normal;font-style:italic;">Poisson&rsquo;s ratio</div>
<div class="t" style="left:123px;top:686px;line-height:15px;font-family:'Liberation Serif', serif;font-size:10.5px;font-weight:normal;font-style:normal;">Tooth</div>
<div class="t" style="left:290.88px;top:686px;line-height:15px;font-family:'Liberation Serif', serif;font-size:10.5px;font-weight:normal;font-style:normal;">18,000<sup>5</sup></div>
<div class="t" style="left:372.81px;top:686px;line-height:15px;font-family:'Liberation Serif', serif;font-size:10.5px;font-weight:normal;font-style:normal;">0.30</div>
<div class="t" style="left:123px;top:699px;line-height:15px;font-family:'Liberation Serif', serif;font-size:10.5px;font-weight:normal;font-style:normal;">Cortical bone of mandible</div>
<div class="t" style="left:288.69px;top:699px;line-height:15px;font-family:'Liberation Serif', serif;font-size:10.5px;font-weight:normal;font-style:normal;">13,000<sup>15</sup></div>
<div class="t" style="left:372.81px;top:699px;line-height:15px;font-family:'Liberation Serif', serif;font-size:10.5px;font-weight:normal;font-style:normal;">0.30</div>
<div class="t" style="left:123px;top:712px;line-height:15px;font-family:'Liberation Serif', serif;font-size:10.5px;font-weight:normal;font-style:normal;">Cancellous bone of mandible</div>
<div class="t" style="left:291.31px;top:712px;line-height:15px;font-family:'Liberation Serif', serif;font-size:10.5px;font-weight:normal;font-style:normal;">1,000<sup>15</sup></div>
<div class="t" style="left:372.81px;top:712px;line-height:15px;font-family:'Liberation Serif', serif;font-size:10.5px;font-weight:normal;font-style:normal;">0.30</div>
<div class="t" style="left:123px;top:725px;line-height:15px;font-family:'Liberation Serif', serif;font-size:10.5px;font-weight:normal;font-style:normal;">PDL non-fibrous matrix (NPFM)</div>
<div class="t" style="left:304.88px;top:725px;line-height:15px;font-family:'Liberation Serif', serif;font-size:10.5px;font-weight:normal;font-style:normal;">2</div>
<div class="t" style="left:372.81px;top:725px;line-height:15px;font-family:'Liberation Serif', serif;font-size:10.5px;font-weight:normal;font-style:normal;">0.45</div>
<div class="t" style="left:123px;top:738px;line-height:15px;font-family:'Liberation Serif', serif;font-size:10.5px;font-weight:normal;font-style:normal;">PDL fiber</div>
<div class="t" style="left:288.83px;top:738px;line-height:15px;font-family:'Liberation Serif', serif;font-size:10.5px;font-weight:normal;font-style:normal;">10/30/90</div>
<div class="t" style="left:372.81px;top:738px;line-height:15px;font-family:'Liberation Serif', serif;font-size:10.5px;font-weight:normal;font-style:normal;">0.35</div>
<div class="t" style="left:446px;top:519px;line-height:18px;font-family:'Liberation Serif', serif;font-size:13.2px;font-weight:normal;font-style:normal;"><span style="font-family:'Liberation Sans',sans-serif;font-weight:bold;font-size:10px">Table III.</span> Combinations of fiber properties used in</div>
<div class="t" style="left:446px;top:532px;line-height:18px;font-family:'Liberation Serif', serif;font-size:13.2px;font-weight:normal;font-style:normal;">parametric calculations; in addition to 5 cases in Table,</div>
<div class="t" style="left:446px;top:545px;line-height:18px;font-family:'Liberation Serif', serif;font-size:13.2px;font-weight:normal;font-style:normal;">results for traditional no-fiber case and another model</div>
<div class="t" style="left:446px;top:558px;line-height:18px;font-family:'Liberation Serif', serif;font-size:13.2px;font-weight:normal;font-style:normal;">with only principal fibers (no-NPFM case; 45&deg; and</div>
<div class="t" style="left:446px;top:572px;line-height:18px;font-family:'Liberation Serif', serif;font-size:13.2px;font-weight:normal;font-style:normal;">E = 30 MPa) were obtained</div>
<div class="t" style="left:591.93px;top:593px;line-height:15px;font-family:'Liberation Serif', serif;font-size:10.5px;font-weight:normal;font-style:italic;">Angulation (in degrees)</div>
<div class="t" style="left:446px;top:617px;line-height:15px;font-family:'Liberation Serif', serif;font-size:10.5px;font-weight:normal;font-style:italic;">Young&rsquo;s modulus (MPa)</div>
<div class="t" style="left:591.15px;top:617px;line-height:15px;font-family:'Liberation Serif', serif;font-size:10.5px;font-weight:normal;font-style:italic;">30</div>
<div class="t" style="left:634.35px;top:617px;line-height:15px;font-family:'Liberation Serif', serif;font-size:10.5px;font-weight:normal;font-style:italic;">45</div>
<div class="t" style="left:680.95px;top:617px;line-height:15px;font-family:'Liberation Serif', serif;font-size:10.5px;font-weight:normal;font-style:italic;">60</div>
<div class="t" style="left:446px;top:642px;line-height:15px;font-family:'Liberation Serif', serif;font-size:10.5px;font-weight:normal;font-style:normal;">10</div>
<div class="t" style="left:636.20px;top:642px;line-height:15px;font-family:'Liberation Serif', serif;font-size:10.5px;font-weight:normal;font-style:normal;">X</div>
<div class="t" style="left:446px;top:655px;line-height:15px;font-family:'Liberation Serif', serif;font-size:10.5px;font-weight:normal;font-style:normal;">30</div>
<div class="t" style="left:592.20px;top:655px;line-height:15px;font-family:'Liberation Serif', serif;font-size:10.5px;font-weight:normal;font-style:normal;">X</div>
<div class="t" style="left:636.20px;top:655px;line-height:15px;font-family:'Liberation Serif', serif;font-size:10.5px;font-weight:normal;font-style:normal;">X</div>
<div class="t" style="left:681.80px;top:655px;line-height:15px;font-family:'Liberation Serif', serif;font-size:10.5px;font-weight:normal;font-style:normal;">X</div>
<div class="t" style="left:446px;top:668px;line-height:15px;font-family:'Liberation Serif', serif;font-size:10.5px;font-weight:normal;font-style:normal;">90</div>
<div class="t" style="left:636.20px;top:668px;line-height:15px;font-family:'Liberation Serif', serif;font-size:10.5px;font-weight:normal;font-style:normal;">X</div>
</body></html>
